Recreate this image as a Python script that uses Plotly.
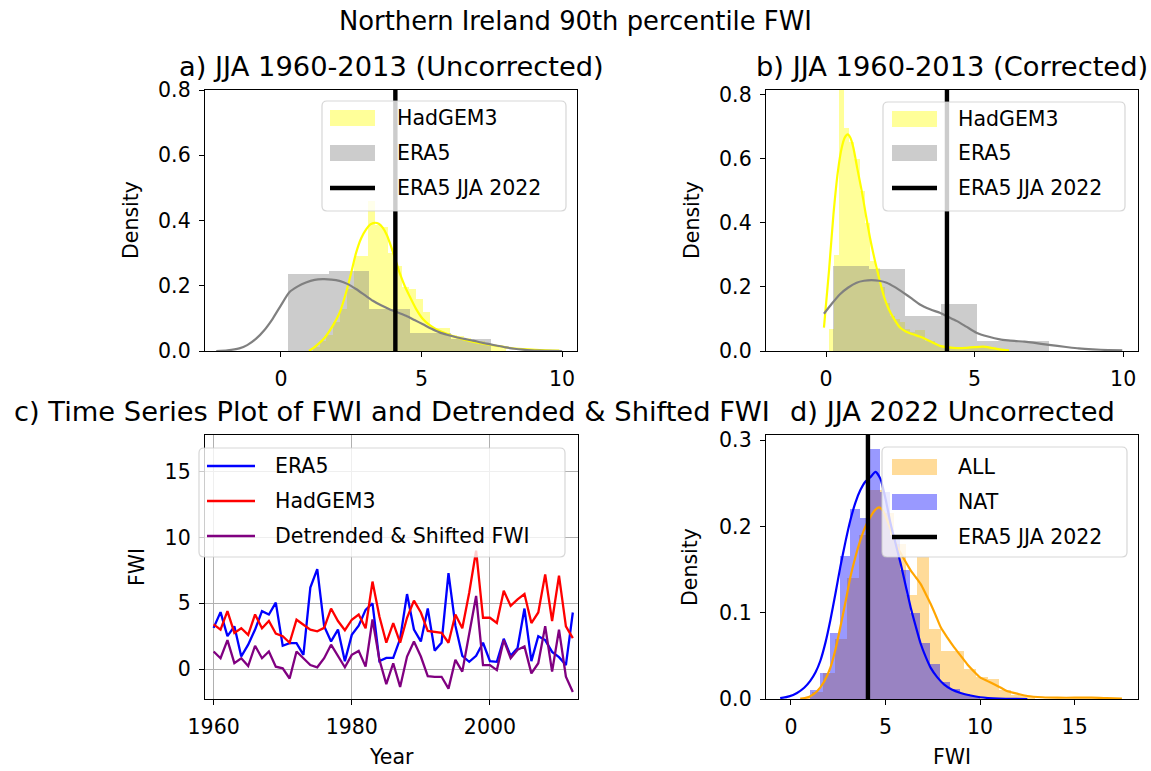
import plotly.graph_objects as go

W, H = 1151, 771
FONT = "DejaVu Sans"
TICK_SIZE = 20.5
SUPTITLE_SIZE = 25.8
TITLE_SIZE = 27.3

# ---------------- data ----------------
era5_jja_2022 = 4.07

# panel a) uncorrected
a_had_bin_left = [1.13, 1.375, 1.62, 1.865, 2.11, 2.355, 2.60, 2.845, 3.09, 3.335, 3.58, 3.825,
                  4.07, 4.315, 4.56, 4.805, 5.05, 5.295, 5.54, 5.785, 6.03, 6.275, 6.52, 6.765,
                  7.01, 7.255, 7.50, 7.745]
a_had_bin_width = 0.245
a_had_density = [0.012, 0.03, 0.05, 0.09, 0.13, 0.19, 0.29, 0.29, 0.46, 0.385, 0.38, 0.30,
                 0.26, 0.195, 0.19, 0.16, 0.12, 0.072, 0.072, 0.072, 0.05, 0.045, 0.04, 0.03,
                 0.03, 0.02, 0.015, 0.008]
a_era5_bin_left = [0.26, 1.70, 3.15, 4.59, 6.04]
a_era5_bin_width = 1.444
a_era5_density = [0.235, 0.245, 0.13, 0.055, 0.037]
a_had_kde_x = [1.0, 1.25, 1.55, 1.84, 2.1, 2.32, 2.5, 2.67, 2.85, 3.03, 3.18, 3.33, 3.48, 3.62, 3.77,
               3.92, 4.07, 4.22, 4.4, 4.57, 4.8, 5.05, 5.28, 5.52, 5.9, 6.24, 6.6, 6.95, 7.3, 7.66,
               8.1, 8.6, 9.2, 9.9]
a_had_kde_y = [0.0, 0.016, 0.04, 0.077, 0.12, 0.18, 0.24, 0.30, 0.345, 0.373, 0.388, 0.393, 0.39,
               0.378, 0.355, 0.32, 0.28, 0.24, 0.2, 0.169, 0.13, 0.098, 0.08, 0.067, 0.053, 0.042,
               0.033, 0.026, 0.021, 0.016, 0.01, 0.006, 0.003, 0.001]
a_era5_kde_x = [-2.3, -1.9, -1.48, -1.2, -0.89, -0.6, -0.3, 0.0, 0.3, 0.6, 0.89, 1.2, 1.48, 1.8,
                2.08, 2.38, 2.67, 2.97, 3.27, 3.56, 3.86, 4.15, 4.45, 4.75, 5.05, 5.34, 5.64, 5.94,
                6.24, 6.53, 6.83, 7.12, 7.42, 7.7, 8.0, 8.3, 8.6, 8.9, 9.2, 9.6, 10.0]
a_era5_kde_y = [0.0, 0.002, 0.008, 0.018, 0.037, 0.063, 0.098, 0.14, 0.18, 0.198, 0.21, 0.218,
                0.22, 0.219, 0.215, 0.205, 0.19, 0.172, 0.154, 0.14, 0.128, 0.118, 0.108, 0.095,
                0.082, 0.069, 0.057, 0.049, 0.042, 0.037, 0.032, 0.026, 0.021, 0.016, 0.011,
                0.007, 0.004, 0.002, 0.001, 0.0005, 0.0]

# panel b) corrected
b_had_bin_left = [0.108, 0.278, 0.448, 0.618, 0.788, 0.958, 1.128, 1.298, 1.468, 1.638, 1.808,
                  1.978, 2.148, 2.318, 2.488, 2.658, 2.828, 2.998, 3.168, 3.338, 3.508, 3.678,
                  3.848, 4.018, 4.188, 4.358, 4.528, 4.698, 4.868, 5.038, 5.208, 5.378, 5.548,
                  5.718, 5.888]
b_had_bin_width = 0.17
b_had_density = [0.07, 0.30, 0.90, 0.696, 0.65, 0.60, 0.50, 0.40, 0.28, 0.26, 0.20, 0.15, 0.11,
                 0.10, 0.09, 0.07, 0.06, 0.065, 0.067, 0.031, 0.03, 0.02, 0.015, 0.01, 0.01,
                 0.01, 0.012, 0.012, 0.012, 0.015, 0.015, 0.012, 0.01, 0.006, 0.004]
b_era5_bin_left = [0.25, 1.46, 2.67, 3.88, 5.09, 6.30]
b_era5_bin_width = 1.21
b_era5_density = [0.265, 0.255, 0.108, 0.145, 0.032, 0.032]
b_had_kde_x = [-0.07, 0.1, 0.25, 0.4, 0.53, 0.63, 0.73, 0.82, 0.92, 1.05, 1.2, 1.34, 1.48, 1.65,
               1.81, 1.95, 2.09, 2.29, 2.49, 2.7, 2.93, 3.15, 3.38, 3.6, 3.83, 4.05, 4.28, 4.5,
               4.72, 5.0, 5.29, 5.55, 5.85, 6.16]
b_had_kde_y = [0.073, 0.25, 0.426, 0.56, 0.634, 0.665, 0.675, 0.665, 0.634, 0.57, 0.5, 0.425,
               0.353, 0.28, 0.218, 0.17, 0.135, 0.1, 0.073, 0.06, 0.052, 0.045, 0.036, 0.026,
               0.016, 0.012, 0.01, 0.009, 0.01, 0.012, 0.0135, 0.01, 0.005, 0.002]
b_era5_kde_x = [-0.07, 0.2, 0.47, 0.75, 1.03, 1.28, 1.53, 1.78, 2.04, 2.32, 2.6, 2.88, 3.16, 3.5,
                3.83, 4.1, 4.39, 4.72, 5.06, 5.45, 5.85, 6.13, 6.4, 6.68, 6.97, 7.5, 8.08, 8.5,
                8.98, 9.5, 9.97]
b_era5_kde_y = [0.116, 0.148, 0.177, 0.198, 0.213, 0.219, 0.221, 0.219, 0.213, 0.199, 0.182,
                0.164, 0.145, 0.13, 0.119, 0.107, 0.094, 0.076, 0.057, 0.045, 0.036, 0.033, 0.031,
                0.029, 0.026, 0.019, 0.0125, 0.008, 0.005, 0.003, 0.002]

# panel c) time series
years = list(range(1960, 2013))
era5_fwi = [3.13, 4.33, 2.5, 3.25, 0.95, 1.85, 3.0, 4.4, 4.15, 5.05, 1.77, 1.97, 1.97, 1.08,
            6.2, 7.6, 3.25, 2.1, 3.0, 0.6, 2.6, 3.3, 4.5, 5.0, 0.6, 0.85, 0.85, 2.3, 5.7, 3.0,
            2.1, 4.6, 1.4, 2.0, 7.3, 3.3, 1.0, 0.55, 1.0, 2.0, 0.6, 0.55, 2.3, 1.0, 1.6, 4.6,
            0.6, 2.5, 2.2, 1.3, 0.9, 0.3, 4.3]
hadgem3_fwi = [3.4, 3.0, 4.4, 2.75, 3.1, 2.6, 4.15, 3.1, 3.65, 2.7, 2.5, 2.0, 3.75, 3.4, 3.0,
               2.87, 3.13, 4.6, 3.65, 2.95, 3.75, 4.15, 3.1, 6.65, 4.0, 2.0, 3.5, 2.0, 3.9, 5.2,
               4.3, 2.9, 2.8, 2.75, 2.0, 4.15, 3.1, 5.8, 9.0, 3.9, 3.9, 3.5, 5.95, 4.8, 5.3, 5.7,
               3.5, 4.3, 7.2, 3.65, 7.1, 3.25, 2.35]
detrended_fwi = [1.33, 0.82, 2.2, 0.45, 0.82, 0.23, 1.77, 0.82, 1.33, 0.18, 0.05, -0.72, 1.33,
                 0.82, 0.3, 0.13, 0.82, 1.85, 0.95, 0.13, 1.08, 1.38, 0.18, 3.77, 0.7, -1.15,
                 0.44, -1.36, 0.95, 2.1, 0.95, -0.54, -0.59, -0.59, -1.49, 0.7, -0.2, 2.74,
                 5.56, 0.3, 0.3, -0.08, 2.2, 0.82, 1.46, 1.72, -0.33, 0.44, 3.26, -0.2, 3.0,
                 -0.59, -1.74]

# panel d) JJA 2022 uncorrected
d_all_bin_left = [0.48, 1.10, 1.72, 2.34, 2.96, 3.58, 4.20, 4.82, 5.44, 6.06, 6.68, 7.30, 7.92,
                  8.54, 9.16, 9.78, 10.40, 11.02, 11.64, 12.26]
d_all_bin_width = 0.62
d_all_density = [0.002, 0.008, 0.03, 0.07, 0.14, 0.19, 0.242, 0.215, 0.18, 0.12, 0.164, 0.081,
                 0.056, 0.056, 0.035, 0.025, 0.023, 0.01, 0.005, 0.003]
d_nat_bin_left = [1.0, 1.53, 2.06, 2.59, 3.12, 3.65, 4.18, 4.71, 5.24, 5.77, 6.30, 6.83, 7.36,
                  7.89, 8.42, 8.95, 9.48]
d_nat_bin_width = 0.53
d_nat_density = [0.01, 0.03, 0.077, 0.166, 0.22, 0.21, 0.29, 0.24, 0.19, 0.15, 0.10, 0.065,
                 0.04, 0.02, 0.012, 0.006, 0.003]
d_all_kde_x = [0.5, 1.0, 1.38, 1.75, 2.08, 2.35, 2.61, 2.88, 3.14, 3.4, 3.67, 3.94, 4.2, 4.45,
               4.65, 4.87, 5.09, 5.35, 5.62, 5.98, 6.33, 6.6, 6.86, 7.12, 7.39, 7.65, 7.92, 8.27,
               8.62, 8.98, 9.33, 9.67, 10.0, 10.37, 10.74, 11.1, 11.45, 12.0, 12.5, 13.3, 14.1,
               15.0, 15.9, 16.7, 17.5]
d_all_kde_y = [0.0, 0.003, 0.009, 0.02, 0.036, 0.057, 0.083, 0.112, 0.141, 0.164, 0.184, 0.2,
               0.211, 0.219, 0.222, 0.218, 0.207, 0.192, 0.176, 0.162, 0.149, 0.141, 0.133, 0.122,
               0.11, 0.097, 0.083, 0.071, 0.06, 0.05, 0.04, 0.032, 0.025, 0.021, 0.017, 0.013,
               0.009, 0.006, 0.0035, 0.002, 0.0015, 0.0015, 0.0015, 0.001, 0.0005]
d_nat_kde_x = [-0.57, -0.1, 0.32, 0.7, 1.02, 1.3, 1.55, 1.82, 2.08, 2.35, 2.61, 2.88, 3.14, 3.4,
               3.67, 3.94, 4.2, 4.47, 4.73, 5.0, 5.27, 5.53, 5.8, 6.07, 6.33, 6.6, 6.86, 7.12,
               7.39, 7.74, 8.09, 8.5, 8.97, 9.5, 10.0, 11.0, 12.5]
d_nat_kde_y = [0.001, 0.003, 0.007, 0.013, 0.021, 0.031, 0.044, 0.065, 0.091, 0.122, 0.153,
               0.182, 0.207, 0.227, 0.242, 0.252, 0.257, 0.263, 0.255, 0.232, 0.203, 0.18, 0.157,
               0.131, 0.106, 0.084, 0.064, 0.049, 0.036, 0.025, 0.017, 0.011, 0.007, 0.004,
               0.002, 0.0005, 0.0]

# ---------------- layout helpers ----------------
def px_x(p):
    return p / W

def px_y(p):
    return 1 - p / H

# axes boxes in pixels (left, right, top, bottom)
boxes = {
    1: (205, 577, 90, 351),
    2: (766, 1138, 90, 351),
    3: (205, 578, 435, 699),
    4: (766, 1138, 435, 699),
}

fig = go.Figure()

def axn(k, letter):
    return letter if k == 1 else f"{letter}{k}"

def hist(ax, lefts, width, dens, rgba, name):
    fig.add_trace(go.Bar(
        x=[l + width / 2 for l in lefts], y=dens, width=[width] * len(lefts),
        marker=dict(color=rgba, line=dict(width=0)), name=name, showlegend=False,
        xaxis=axn(ax, "x"), yaxis=axn(ax, "y")))

def line(ax, xs, ys, color, width=2.2, spline=True):
    fig.add_trace(go.Scatter(
        x=xs, y=ys, mode="lines",
        line=dict(color=color, width=width, shape="spline" if spline else "linear", smoothing=0.6),
        showlegend=False, cliponaxis=True, xaxis=axn(ax, "x"), yaxis=axn(ax, "y")))

YELLOW_A = "rgba(255,255,0,0.4)"
GREY_A = "rgba(128,128,128,0.4)"
ORANGE_A = "rgba(255,165,0,0.4)"
BLUE_A = "rgba(0,0,255,0.4)"

# panel a
hist(1, a_had_bin_left, a_had_bin_width, a_had_density, YELLOW_A, "HadGEM3")
hist(1, a_era5_bin_left, a_era5_bin_width, a_era5_density, GREY_A, "ERA5")
line(1, a_had_kde_x, a_had_kde_y, "#ffff00")
line(1, a_era5_kde_x, a_era5_kde_y, "#808080")
# panel b
hist(2, b_had_bin_left, b_had_bin_width, b_had_density, YELLOW_A, "HadGEM3")
hist(2, b_era5_bin_left, b_era5_bin_width, b_era5_density, GREY_A, "ERA5")
line(2, b_had_kde_x, b_had_kde_y, "#ffff00")
line(2, b_era5_kde_x, b_era5_kde_y, "#808080")
# panel c
line(3, years, era5_fwi, "#0000ff", 2.3, False)
line(3, years, hadgem3_fwi, "#ff0000", 2.3, False)
line(3, years, detrended_fwi, "#800080", 2.3, False)
# panel d
hist(4, d_all_bin_left, d_all_bin_width, d_all_density, ORANGE_A, "ALL")
hist(4, d_nat_bin_left, d_nat_bin_width, d_nat_density, BLUE_A, "NAT")
line(4, d_all_kde_x, d_all_kde_y, "#ffa500")
line(4, d_nat_kde_x, d_nat_kde_y, "#0000ff")

ranges_x = {1: [-2.7, 10.53], 2: [-2.02, 10.5], 3: [1958.75, 2012.75], 4: [-1.32, 18.35]}
ranges_y = {1: [0, 0.8], 2: [0, 0.8136], 3: [-2.28, 17.8], 4: [0, 0.3058]}
ticks_x = {1: [0, 5, 10], 2: [0, 5, 10], 3: [1960, 1980, 2000], 4: [0, 5, 10, 15]}
ticks_y = {1: [0, 0.2, 0.4, 0.6, 0.8], 2: [0, 0.2, 0.4, 0.6, 0.8], 3: [0, 5, 10, 15],
           4: [0, 0.1, 0.2, 0.3]}
fmt_y = {1: ".1f", 2: ".1f", 3: "d", 4: ".1f"}

axis_common = dict(showline=True, linecolor="black", linewidth=1.4, mirror=True,
                   ticks="outside", ticklen=5, tickwidth=1.2, tickcolor="black",
                   tickfont=dict(family=FONT, size=TICK_SIZE, color="black"),
                   zeroline=False, fixedrange=True, automargin=False)

layout_axes = {}
for k, (l, r, t, b) in boxes.items():
    grid = (k == 3)
    layout_axes[axn(k, "xaxis")] = dict(
        axis_common, domain=[px_x(l), px_x(r)], range=ranges_x[k], tickvals=ticks_x[k],
        anchor=axn(k, "y"), showgrid=grid, gridcolor="#b0b0b0", gridwidth=1.1,
        ticklabelstandoff=4)
    layout_axes[axn(k, "yaxis")] = dict(
        axis_common, domain=[px_y(b), px_y(t)], range=ranges_y[k], tickvals=ticks_y[k],
        tickformat=fmt_y[k], anchor=axn(k, "x"), showgrid=grid, gridcolor="#b0b0b0",
        gridwidth=1.1, ticklabelstandoff=4)

fig.update_layout(
    autosize=True, margin=dict(l=0, r=0, t=0, b=0, pad=0),
    paper_bgcolor="white", plot_bgcolor="white", barmode="overlay", bargap=0,
    showlegend=False, font=dict(family=FONT, color="black"), **layout_axes)

shapes = []
annotations = []

def text(x, y, s, size=TICK_SIZE, xanchor="center", yanchor="middle", angle=0):
    annotations.append(dict(x=px_x(x), y=px_y(y), xref="paper", yref="paper", text=s,
                            showarrow=False, xanchor=xanchor, yanchor=yanchor, textangle=angle,
                            font=dict(family=FONT, size=size, color="black")))

# titles
text(575.5, 21, "Northern Ireland 90th percentile FWI", SUPTITLE_SIZE)
text(391, 66, "a) JJA 1960-2013 (Uncorrected)", TITLE_SIZE)
text(952, 66, "b) JJA 1960-2013 (Corrected)", TITLE_SIZE)
text(391.5, 411, "c) Time Series Plot of FWI and Detrended &amp; Shifted FWI", TITLE_SIZE)
text(952, 411, "d) JJA 2022 Uncorrected", TITLE_SIZE)
# axis labels
text(131, 220, "Density", angle=-90)
text(692, 220, "Density", angle=-90)
text(137, 567, "FWI", angle=-90)
text(690, 567, "Density", angle=-90)
text(391.5, 757, "Year")
text(952, 757, "FWI")

# vertical observed lines
for k in (1, 2, 4):
    shapes.append(dict(type="line", xref=axn(k, "x"), yref=axn(k, "y") + " domain",
                       x0=era5_jja_2022, x1=era5_jja_2022, y0=0, y1=1,
                       line=dict(color="black", width=4.4), layer="above"))

def legend_box(l, r, t, b):
    rx, ry = 5 / W, 5 / H
    x0, x1, y0, y1 = px_x(l), px_x(r), px_y(b), px_y(t)
    path = (f"M{x0+rx},{y0} L{x1-rx},{y0} Q{x1},{y0} {x1},{y0+ry} L{x1},{y1-ry} "
            f"Q{x1},{y1} {x1-rx},{y1} L{x0+rx},{y1} Q{x0},{y1} {x0},{y1-ry} "
            f"L{x0},{y0+ry} Q{x0},{y0} {x0+rx},{y0} Z")
    shapes.append(dict(type="path", xref="paper", yref="paper", path=path,
                       fillcolor="rgba(255,255,255,0.8)",
                       line=dict(color="rgba(204,204,204,0.8)", width=1.2), layer="above"))

def legend_patch(l, r, yc, color):
    shapes.append(dict(type="rect", xref="paper", yref="paper", x0=px_x(l), x1=px_x(r),
                       y0=px_y(yc + 8), y1=px_y(yc - 8), fillcolor=color,
                       line=dict(width=0), layer="above"))

def legend_line(l, r, yc, color, width):
    shapes.append(dict(type="line", xref="paper", yref="paper", x0=px_x(l), x1=px_x(r),
                       y0=px_y(yc), y1=px_y(yc), line=dict(color=color, width=width),
                       layer="above"))

# legend a
legend_box(322, 566, 101, 211)
legend_patch(330, 375, 118, YELLOW_A)
legend_patch(330, 375, 153, GREY_A)
legend_line(330, 375, 188, "black", 4.4)
text(395, 118, "HadGEM3", xanchor="left")
text(395, 153, "ERA5", xanchor="left")
text(395, 188, "ERA5 JJA 2022", xanchor="left")
# legend b
legend_box(883, 1125, 102, 211)
legend_patch(892, 937, 119, YELLOW_A)
legend_patch(892, 937, 153, GREY_A)
legend_line(892, 937, 188, "black", 4.4)
text(956, 119, "HadGEM3", xanchor="left")
text(956, 153, "ERA5", xanchor="left")
text(956, 188, "ERA5 JJA 2022", xanchor="left")
# legend c
legend_box(199, 565, 448, 557)
legend_line(207, 255, 466, "#0000ff", 2.3)
legend_line(207, 255, 501, "#ff0000", 2.3)
legend_line(207, 255, 536, "#800080", 2.3)
text(273, 466, "ERA5", xanchor="left")
text(273, 501, "HadGEM3", xanchor="left")
text(273, 536, "Detrended &amp; Shifted FWI", xanchor="left")
# legend d
legend_box(882, 1127, 447, 557)
legend_patch(892, 937, 467, ORANGE_A)
legend_patch(892, 937, 502, BLUE_A)
legend_line(892, 937, 537, "black", 4.4)
text(956, 467, "ALL", xanchor="left")
text(956, 502, "NAT", xanchor="left")
text(956, 537, "ERA5 JJA 2022", xanchor="left")

fig.update_layout(shapes=shapes, annotations=annotations)
fig.write_html(
    "out.html",
    config={"displayModeBar": False},
    default_width=f"{W}px",
    default_height=f"{H}px; position:absolute; left:0px; top:0px; margin:0px",
    post_script="document.body.style.margin='0px';",
)
